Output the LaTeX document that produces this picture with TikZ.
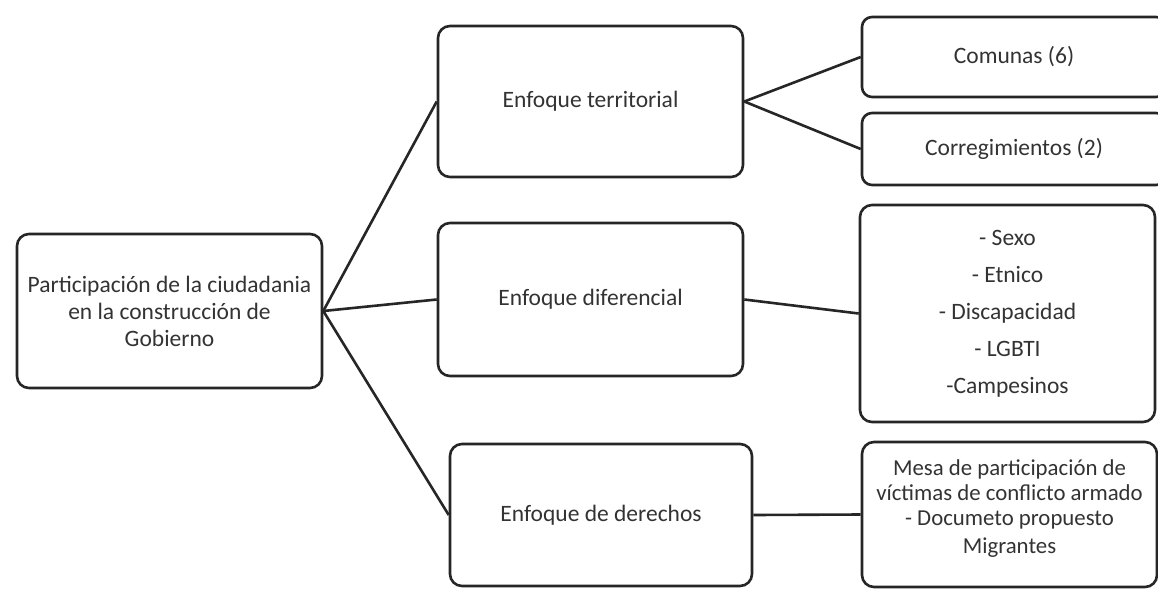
\documentclass[tikz,border=0pt]{standalone}
\usepackage{fontspec}
\setmainfont{Carlito}
\begin{document}
\begin{tikzpicture}[x=1pt,y=-1pt,
  box/.style={draw=black!85, line width=2.6pt, rounded corners=12pt, align=center, inner sep=0pt,
    font=\fontsize{23.5}{27}\selectfont, text=black!80},
  link/.style={draw=black!85, line width=2.6pt}]
\clip (0,0) rectangle (1158,589);
\fill[white] (0,0) rectangle (1158,589);
\node[box, minimum width=305pt, minimum height=154pt] (root) at (169.5,311) {Participación de la ciudadania\\en la construcción de\\Gobierno};
\node[box, minimum width=305pt, minimum height=151pt] (terr) at (590.5,101.5) {Enfoque territorial};
\node[box, minimum width=305pt, minimum height=153pt] (dif) at (590.5,299.5) {Enfoque diferencial};
\node[box, minimum width=302pt, minimum height=142pt] (der) at (601,515) {Enfoque de derechos};
\node[box, minimum width=304pt, minimum height=80pt, rounded corners=10pt] (com) at (1014,57) {Comunas (6)};
\node[box, minimum width=304pt, minimum height=72pt, rounded corners=10pt] (cor) at (1014,149) {Corregimientos (2)};
\node[box, minimum width=295pt, minimum height=217pt, font=\fontsize{23.5}{37}\selectfont] (dlist) at (1007.5,313.5) {- Sexo\\- Etnico\\- Discapacidad\\- LGBTI\\-Campesinos};
\node[box, minimum width=295pt, minimum height=145pt, font=\fontsize{22.8}{25}\selectfont] (rlist) at (1009.5,514.5) {\\[-21pt]Mesa de participación de\\víctimas de conflicto armado\\- Documeto propuesto\\[3pt]Migrantes};
\draw[link] (root.east) -- (terr.west);
\draw[link] (root.east) -- (dif.west);
\draw[link] (root.east) -- (der.west);
\draw[link] (terr.east) -- (com.west);
\draw[link] (terr.east) -- (cor.west);
\draw[link] (dif.east) -- (dlist.west);
\draw[link] (der.east) -- (rlist.west);
\end{tikzpicture}
\end{document}
